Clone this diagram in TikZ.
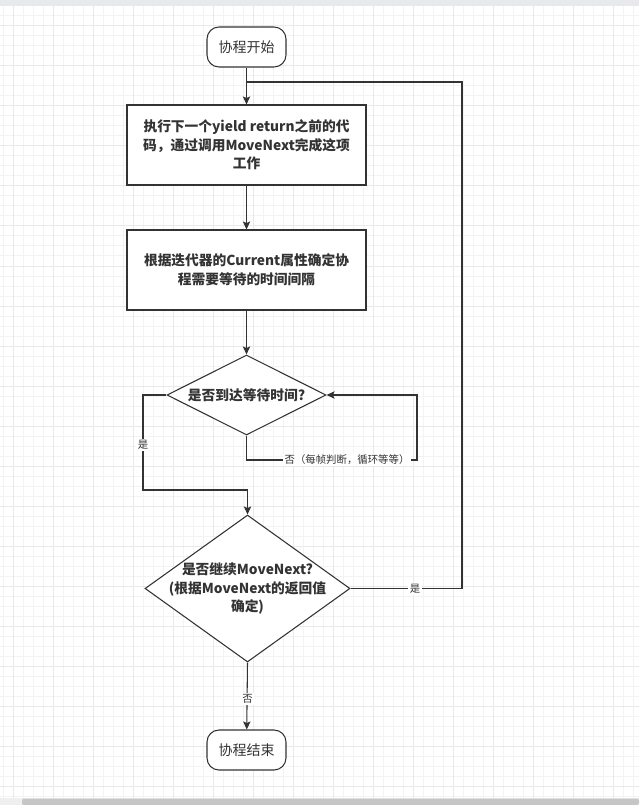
\documentclass[tikz,border=0pt]{standalone}
\usepackage{fontspec}
\setmainfont{Noto Sans CJK SC}
\usetikzlibrary{shapes.geometric,arrows.meta}
\definecolor{gridminor}{HTML}{F3F3F3}
\definecolor{gridmajor}{HTML}{E9E9E9}
\definecolor{topbar}{HTML}{E8E9EC}
\definecolor{scrollbg}{HTML}{EFEFEF}
\definecolor{scrollbar}{HTML}{C6C6C6}
\definecolor{ink}{HTML}{333333}
\begin{document}
\begin{tikzpicture}[x=0.75pt,y=-0.75pt,
  every node/.style={text=ink},
  term/.style={draw=ink,line width=0.8pt,fill=white,rounded corners=9pt,minimum width=59.25pt,minimum height=30pt,inner sep=0pt,font=\fontsize{10.5pt}{12pt}\selectfont},
  procbox/.style={draw=ink,line width=0.8pt,fill=white,minimum width=179.25pt,minimum height=60pt,inner sep=0pt},
  dia/.style={draw=ink,line width=0.8pt,fill=white,diamond,inner sep=0pt},
  txt/.style={align=center,font=\bfseries\fontsize{10.3pt}{14pt}\selectfont},
  lbl/.style={fill=white,inner sep=1pt,font=\fontsize{7.8pt}{9pt}\selectfont},
  conn/.style={draw=ink,line width=0.8pt},
  arr/.style={conn,-{Stealth[length=6pt,width=5.5pt,inset=1.2pt]}}]
\useasboundingbox (0,0) rectangle (639,805);
\fill[white] (0,0) rectangle (639,805);
\foreach \x in {3,13,...,633} \draw[gridminor,line width=0.75pt] (\x,6) -- (\x,799);
\foreach \y in {6,16,...,796} \draw[gridminor,line width=0.75pt] (0,\y) -- (639,\y);
\foreach \x in {13,53,...,613} \draw[gridmajor,line width=0.75pt] (\x,6) -- (\x,799);
\foreach \y in {26,66,...,786} \draw[gridmajor,line width=0.75pt] (0,\y) -- (639,\y);
\fill[topbar] (0,0) rectangle (639,6);
\fill[scrollbg] (0,798) rectangle (639,805);
\fill[scrollbar,rounded corners=1.5pt] (22,798.5) rectangle (639,805);

\node[term] (start) at (246.5,47) {协程开始};
\node[procbox] (b1) at (246.5,145) {};
\node[txt] (b1t) at (b1.center) {执行下一个yield return之前的代\\码，通过调用MoveNext完成这项\\工作};
\node[procbox] (b2) at (246.5,270) {};
\node[txt] (b2t) at (b2.center) {根据迭代器的Current属性确定协\\程需要等待的时间间隔};
\node[dia,minimum width=119.25pt,minimum height=60pt] (d1) at (246.5,395) {};
\node[txt] (d1t) at (d1.center) {是否到达等待时间?};
\node[dia,minimum width=153.75pt,minimum height=110.25pt] (d2) at (247.5,588.5) {};
\node[txt] (d2t) at (d2.center) {是否继续MoveNext?\\(根据MoveNext的返回值\\确定)};
\node[term] (end) at (246.5,750) {协程结束};

\coordinate (j0) at (246.5,82);
\coordinate (r1) at (462,82);
\coordinate (r2) at (462,588.5);
\coordinate (n1) at (246.5,460);
\coordinate (n2) at (417,460);
\coordinate (n3) at (417,395);
\coordinate (y1) at (143,395);
\coordinate (y2) at (143,490);
\coordinate (y3) at (247.5,490);

\draw[arr] (start) -- (b1);
\draw[arr] (b1) -- (b2);
\draw[arr] (b2) -- (d1);
\draw[arr] (d1.south) -- (n1) -- (n2) -- (n3) -- (d1.east);
\node[lbl] (nolbl) at (347,460) {否（每帧判断，循环等等）};
\draw[arr] (d1.west) -- (y1) -- (y2) -- (y3) -- (d2.north);
\node[lbl] (yes1) at (143,445) {是};
\draw[conn] (d2.east) -- (r2) -- (r1) -- (j0);
\node[lbl] (yes2) at (415,589) {是};
\draw[arr] (d2.south) -- (end);
\node[lbl] (no2) at (247.5,699) {否};
\end{tikzpicture}
\end{document}
